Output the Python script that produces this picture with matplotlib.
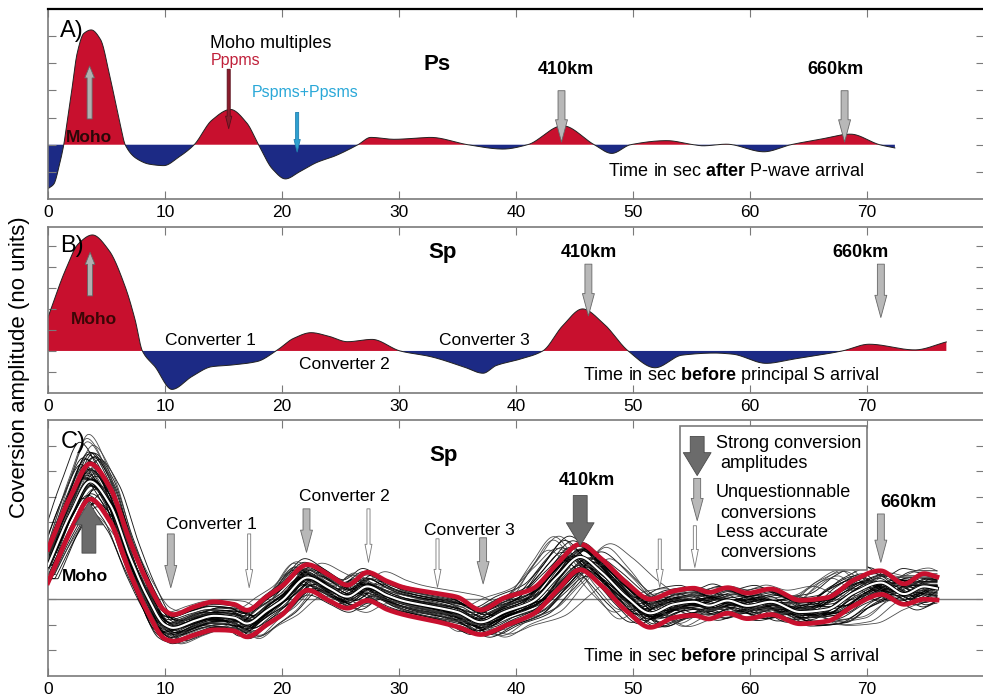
import numpy as np
import matplotlib
import matplotlib.pyplot as plt
from matplotlib.patches import Rectangle

matplotlib.use('Agg')

plt.rcParams['font.family'] = ['Liberation Sans', 'DejaVu Sans']
plt.rcParams['mathtext.fontset'] = 'custom'
plt.rcParams['mathtext.rm'] = 'Liberation Sans'
plt.rcParams['mathtext.bf'] = 'Liberation Sans:bold'

# ---------------- Ps stack (panel A) ----------------
ps_time = [0, 0.5, 1.0, 1.35, 1.63, 2.0, 2.5, 3.06, 3.7, 4.5, 5.3, 6.2, 6.6, 7.6, 8.7, 9.9,
           11.2, 12.5, 14.0, 15.6, 17.0, 18.0, 19.2, 20.3, 21.5, 23.0, 24.5, 26.5, 27.6,
           29.6, 32.7, 35.9, 38.9, 41.0, 44.0, 46.7, 48.2, 49.8, 52.9, 55.2, 56.0, 58.0,
           61.2, 63.5, 66.0, 68.6, 71.1, 72.4]
ps_amp = [-1.62, -1.45, -0.7, 0.0, 0.82, 1.9, 3.38, 4.1, 4.23, 3.87, 2.5, 0.7, 0.0, -0.52,
          -0.72, -0.77, -0.45, 0.0, 0.9, 1.3, 0.8, 0.0, -0.9, -1.26, -1.0, -0.65, -0.42, 0.0,
          0.27, 0.2, 0.27, 0.0, -0.16, 0.0, 0.7, 0.0, -0.32, 0.0, 0.15, 0.0, -0.04, 0.02,
          -0.26, 0.0, 0.2, 0.39, 0.0, -0.12]

# ---------------- Sp stack (panel B) ----------------
sp_time = [0, 1.5, 2.6, 3.8, 5.2, 6.6, 7.45, 8.07, 9.15, 10.6, 12.3, 14.0, 15.7, 17.9, 19.5,
           21.0, 22.5, 24.0, 25.6, 27.7, 30.1, 32.7, 35.5, 37.2, 38.3, 40.3, 42.3, 44.0,
           45.7, 47.5, 49.6, 51.9, 54.2, 57.0, 58.5, 61.4, 63.6, 67.9, 70.2, 74.1, 76.8]
sp_amp = [1.6, 3.86, 5.1, 5.52, 4.8, 3.06, 1.48, 0.0, -0.75, -1.83, -1.22, -0.75, -0.67,
          -0.5, 0.0, 0.6, 0.87, 0.7, 0.44, 0.55, 0.0, -0.27, -0.75, -1.06, -0.7, -0.4, 0.0,
          1.2, 2.0, 1.3, 0.0, -0.8, -0.2, -0.1, -0.15, -0.59, -0.4, 0.0, 0.32, 0.05, 0.43]

# ---------------- Sp individual receivers (panel C) ----------------
mean_time = [0, 2, 3.6, 5.3, 7, 8.5, 10, 10.7, 12.5, 14.2, 15.9, 17, 18.7, 20, 22.2, 24,
             25.6, 27.3, 29, 30.4, 33.3, 35, 37, 39, 41.5, 43.5, 45.5, 47.2, 49.5, 51.5,
             53.5, 55.2, 56.5, 58.1, 59.8, 61.8, 64.3, 66.6, 68.9, 71.2, 73.2, 74.9, 76]
mean_amp = [1.3, 3.4, 4.6, 3.7, 1.65, 0.1, -1.0, -1.12, -0.85, -0.65, -0.72, -0.95, -0.45,
            -0.05, 0.85, 0.45, 0.1, 0.5, 0.15, -0.07, -0.33, -0.5, -0.9, -0.5, -0.07, 0.85,
            1.65, 1.1, 0.07, -0.55, -0.2, -0.1, -0.25, -0.05, -0.26, -0.1, -0.5, -0.4, 0.25,
            0.65, 0.2, 0.5, 0.42]
std_amp = [0.65, 0.68, 0.69, 0.66, 0.62, 0.58, 0.55, 0.52, 0.55, 0.55, 0.52, 0.52, 0.55,
           0.56, 0.5, 0.5, 0.45, 0.55, 0.55, 0.53, 0.55, 0.58, 0.48, 0.55, 0.5, 0.52, 0.5,
           0.52, 0.55, 0.55, 0.52, 0.53, 0.52, 0.5, 0.5, 0.5, 0.46, 0.46, 0.5, 0.46, 0.4,
           0.5, 0.45]

# per-receiver time shift (s), time stretch, gain and static offset relative to the stack
rf_shift = [-0.8, -0.6, -0.5, -0.4, -0.3, -0.25, -0.2, -0.15, -0.1, -0.05, 0.0, 0.05, 0.1,
            0.15, 0.2, 0.25, 0.3, 0.4, 0.5, 0.6, 0.8, -0.7, 0.7, -0.35, 0.35, -0.45, 0.45,
            0.0, -0.1, 0.1, -0.2, 0.2, -0.3, 0.3, -0.55, 0.55, -0.9, 0.9, 0.0, 0.15,
            -0.3, 0.3, -0.2, 0.25, -0.35, 0.2, -0.25, 0.3, -0.15, 0.15]
rf_stretch = [1.02, 0.98, 1.01, 0.99, 1.03, 0.97, 1.015, 0.985, 1.0, 1.025, 0.975, 1.005,
              0.995, 1.02, 0.98, 1.01, 0.99, 1.03, 0.97, 1.0, 1.015, 0.985, 1.02, 0.98, 1.0,
              1.025, 0.975, 1.01, 0.99, 1.005, 0.995, 1.02, 0.98, 1.03, 0.97, 1.0, 1.01,
              0.99, 1.015, 0.985,
              1.05, 0.95, 1.045, 0.955, 1.06, 0.94, 1.04, 0.96, 1.055, 0.945]
rf_gain = [1.1, 0.9, 1.2, 0.95, 1.05, 1.15, 0.85, 1.0, 1.25, 0.9, 1.1, 1.0, 1.3, 0.95, 1.05,
           1.15, 0.9, 1.2, 1.0, 0.85, 1.1, 1.05, 0.95, 1.2, 1.0, 1.1, 0.9, 1.15, 1.05, 0.95,
           1.25, 1.0, 0.9, 1.1, 1.2, 0.85, 1.3, 1.0, 1.05, 0.95,
           1.3, 1.2, 0.9, 1.35, 1.1, 0.85, 1.25, 1.0, 1.4, 0.95]
rf_offset = [0.2, -0.2, -0.3, 0.35, 0.1, -0.45, 0.15, -0.1, 0.0, 0.3, -0.35, 0.45, -0.25,
             0.1, -0.15, 0.25, -0.4, 0.05, 0.2, -0.3, 0.4, -0.1, 0.1, -0.05, 0.3, -0.3,
             0.15, -0.2, 0.25, -0.25, -0.1, 0.05, -0.6, 0.65, 0.0, -0.15, 0.15, -0.5, 0.55,
             0.05,
             0.3, -0.4, 0.5, -0.2, 0.1, -0.6, 0.4, -0.3, 0.0, 0.6]

x_ticks = [0, 10, 20, 30, 40, 50, 60, 70]

RED = '#c8102e'
BLUE = '#1c2a85'
SPINE = '#7a7a7a'


def Pchip(xk, yk, x):
    xk = np.asarray(xk, float)
    yk = np.asarray(yk, float)
    h = np.diff(xk)
    d = np.diff(yk) / h
    m = np.zeros_like(yk)
    m[0], m[-1] = d[0], d[-1]
    for k in range(1, len(xk) - 1):
        if d[k - 1] * d[k] > 0:
            w1 = 2 * h[k] + h[k - 1]
            w2 = h[k] + 2 * h[k - 1]
            m[k] = (w1 + w2) / (w1 / d[k - 1] + w2 / d[k])
    x = np.clip(x, xk[0], xk[-1])
    i = np.clip(np.searchsorted(xk, x) - 1, 0, len(h) - 1)
    t = (x - xk[i]) / h[i]
    h00 = 2 * t ** 3 - 3 * t ** 2 + 1
    h10 = t ** 3 - 2 * t ** 2 + t
    h01 = -2 * t ** 3 + 3 * t ** 2
    h11 = t ** 3 - t ** 2
    return h00 * yk[i] + h10 * h[i] * m[i] + h01 * yk[i + 1] + h11 * h[i] * m[i + 1]


def StyleAxis(ax, ylim, yticks):
    ax.set_xlim(0, 80)
    ax.set_ylim(*ylim)
    ax.set_xticks(x_ticks)
    ax.set_yticks(yticks)
    ax.tick_params(direction='in', top=True, right=True, labelleft=False, length=6,
                   color=SPINE, labelsize=12.5, pad=4)
    ax.spines['right'].set_visible(False)
    for side in ['top', 'bottom', 'left']:
        ax.spines[side].set_color(SPINE)
        ax.spines[side].set_linewidth(1.2)


ARROWS = {
    # head_length, head_width, tail_width (points), face, edge
    'dark': (16.5, 20, 10, '#6b6b6b', '#4a4a4a'),
    'mid': (16, 8.6, 5, '#b8b8b8', '#666666'),
    'thin': (13, 5, 2.2, 'white', '#777777'),
    'small': (8.6, 7, 3.6, '#b0b0b0', '#666666'),
    'red': (9, 4.5, 2.2, '#8c1c2c', '#5a0f1a'),
    'blue': (9, 4.5, 2.2, '#2fa0d0', '#2080b0'),
}


def Arrow(ax, x, y0, y1, kind, z=4):
    hl, hw, tw, fc, ec = ARROWS[kind]
    return ax.annotate('', xy=(x, y1), xytext=(x, y0), zorder=z,
                       arrowprops=dict(arrowstyle=f'simple,head_length={hl},head_width={hw},tail_width={tw}',
                                       fc=fc, ec=ec, lw=0.6, shrinkA=0, shrinkB=0, mutation_scale=1))


def FilledTrace(ax, xk, yk):
    x = np.linspace(xk[0], xk[-1], 1500)
    y = Pchip(xk, yk, x)
    ax.fill_between(x, 0, y, where=y >= 0, interpolate=True, color=RED, lw=0)
    ax.fill_between(x, 0, y, where=y <= 0, interpolate=True, color=BLUE, lw=0)
    ax.plot(x, y, color='#222222', lw=0.7)


fig = plt.figure(figsize=(9.83, 6.99), dpi=100)
axA = fig.add_axes([0.0488, 0.7153, 0.952, 0.2718])
axB = fig.add_axes([0.0488, 0.4378, 0.952, 0.2375])
axC = fig.add_axes([0.0488, 0.0329, 0.952, 0.3662])

# ---------------- A) Ps ----------------
StyleAxis(axA, (-2, 5), [-1, 0, 1, 2, 3, 4])
axA.spines['top'].set_color('black')
axA.spines['top'].set_linewidth(1.6)
FilledTrace(axA, ps_time, ps_amp)
axA.text(1.0, 4.2, 'A)', fontsize=17, va='center')
axA.text(33.3, 2.97, 'Ps', fontsize=16, fontweight='bold', ha='center', va='center')
Arrow(axA, 3.56, 0.95, 2.9, 'small')
axA.text(3.5, 0.28, 'Moho', fontsize=12.5, fontweight='bold', color='#2a0808', ha='center', va='center')
axA.text(19.0, 3.72, 'Moho multiples', fontsize=13, ha='center', va='center')
axA.text(16.0, 3.09, 'Pppms', fontsize=11.5, color='#c0203a', ha='center', va='center')
Arrow(axA, 15.45, 2.78, 0.59, 'red')
axA.text(22.0, 1.93, 'Pspms+Ppsms', fontsize=11.5, color='#2aa8d8', ha='center', va='center')
Arrow(axA, 21.3, 1.19, -0.27, 'blue')
axA.text(44.25, 2.78, '410km', fontsize=13, fontweight='bold', ha='center', va='center')
Arrow(axA, 43.9, 1.99, 0.1, 'mid')
axA.text(67.35, 2.78, '660km', fontsize=13, fontweight='bold', ha='center', va='center')
Arrow(axA, 68.1, 1.99, 0.1, 'mid')
axA.text(58.8, -1.0, r'Time in sec $\mathbf{after}$ P-wave arrival', fontsize=13,
         ha='center', va='center')

# ---------------- B) Sp stack ----------------
StyleAxis(axB, (-2, 5.9), [-1, 0, 1, 2, 3, 4, 5])
FilledTrace(axB, sp_time, sp_amp)
axB.text(1.0, 5.0, 'B)', fontsize=17, va='center')
axB.text(33.7, 4.7, 'Sp', fontsize=16, fontweight='bold', ha='center', va='center')
Arrow(axB, 3.6, 2.62, 4.69, 'small')
axB.text(3.9, 1.5, 'Moho', fontsize=12.5, fontweight='bold', color='#3b0606', ha='center', va='center')
axB.text(13.9, 0.48, 'Converter 1', fontsize=12.5, ha='center', va='center')
axB.text(25.3, -0.63, 'Converter 2', fontsize=12.5, ha='center', va='center')
axB.text(37.3, 0.48, 'Converter 3', fontsize=12.5, ha='center', va='center')
axB.text(46.2, 4.7, '410km', fontsize=13, fontweight='bold', ha='center', va='center')
Arrow(axB, 46.2, 4.13, 1.67, 'mid')
axB.text(69.5, 4.7, '660km', fontsize=13, fontweight='bold', ha='center', va='center')
Arrow(axB, 71.2, 4.13, 1.59, 'mid')
axB.text(58.4, -1.16, r'Time in sec $\mathbf{before}$ principal S arrival', fontsize=13,
         ha='center', va='center')

# ---------------- C) individual Sp receiver functions ----------------
StyleAxis(axC, (-3, 7), [-2, -1, 0, 1, 2, 3, 4, 5, 6])
axC.axhline(0, color=SPINE, lw=1.0, zorder=1)
xc = np.linspace(0, mean_time[-1], 1200)
stack = Pchip(mean_time, mean_amp, xc)
spread = Pchip(mean_time, std_amp, xc)
for shift, stretch, gain, offset in zip(rf_shift, rf_stretch, rf_gain, rf_offset):
    warped = 4.0 + (xc - 4.0) * stretch - shift
    trace = gain * Pchip(mean_time, mean_amp, warped) + offset
    outlier = abs(stretch - 1) >= 0.04
    axC.plot(xc, trace, color='#3a3a3a' if outlier else 'black', lw=0.6 if outlier else 0.65,
             alpha=0.9, zorder=2)
axC.plot(xc, stack + spread, color=RED, lw=3.4, zorder=3)
axC.plot(xc, stack - spread, color=RED, lw=3.4, zorder=3)
axC.plot(xc, stack, color='black', lw=2.8, zorder=3)
axC.plot(xc, stack, color='white', lw=1.5, zorder=4)

axC.text(1.1, 6.14, 'C)', fontsize=17, va='center', zorder=5)
axC.text(33.8, 5.62, 'Sp', fontsize=16, fontweight='bold', ha='center', va='center')
Arrow(axC, 3.5, 1.8, 3.8, 'dark')
axC.text(3.2, 0.9, 'Moho', fontsize=12.5, fontweight='bold', ha='center', va='center', zorder=5)
axC.text(14.0, 2.9, 'Converter 1', fontsize=12.5, ha='center', va='center')
Arrow(axC, 10.5, 2.55, 0.45, 'mid')
Arrow(axC, 17.2, 2.55, 0.45, 'thin')
axC.text(25.3, 4.0, 'Converter 2', fontsize=12.5, ha='center', va='center')
Arrow(axC, 22.1, 3.53, 1.83, 'mid')
Arrow(axC, 27.4, 3.53, 1.44, 'thin')
axC.text(36.0, 2.7, 'Converter 3', fontsize=12.5, ha='center', va='center')
Arrow(axC, 33.3, 2.36, 0.46, 'thin')
Arrow(axC, 37.2, 2.4, 0.6, 'mid')
axC.text(46.1, 4.64, '410km', fontsize=13, fontweight='bold', ha='center', va='center')
Arrow(axC, 45.5, 4.05, 2.09, 'dark')
Arrow(axC, 52.3, 2.35, 0.46, 'thin')
axC.text(73.6, 3.79, '660km', fontsize=13, fontweight='bold', ha='center', va='center')
Arrow(axC, 71.2, 3.33, 1.44, 'mid')
axC.text(58.4, -2.25, r'Time in sec $\mathbf{before}$ principal S arrival', fontsize=13,
         ha='center', va='center')

# key to the arrow sizes
axC.add_patch(Rectangle((54.0, 1.14), 16.0, 5.62, facecolor='white', edgecolor=SPINE,
                        lw=1.2, zorder=5))
Arrow(axC, 55.5, 6.36, 4.83, 'dark', z=6)
Arrow(axC, 55.5, 4.72, 3.07, 'mid', z=6)
Arrow(axC, 55.3, 2.87, 1.24, 'thin', z=6)
key_lines = [(57.1, 6.08, 'Strong conversion'), (57.5, 5.29, 'amplitudes'),
             (57.1, 4.18, 'Unquestionnable'), (57.5, 3.36, 'conversions'),
             (57.1, 2.61, 'Less accurate'), (57.5, 1.83, 'conversions')]
for kx, ky, label in key_lines:
    axC.text(kx, ky, label, fontsize=13, va='center', zorder=6)

fig.text(0.02, 0.475, 'Coversion amplitude (no units)', fontsize=16, rotation=90,
         ha='center', va='center')

fig.savefig('out.png', dpi=100)
